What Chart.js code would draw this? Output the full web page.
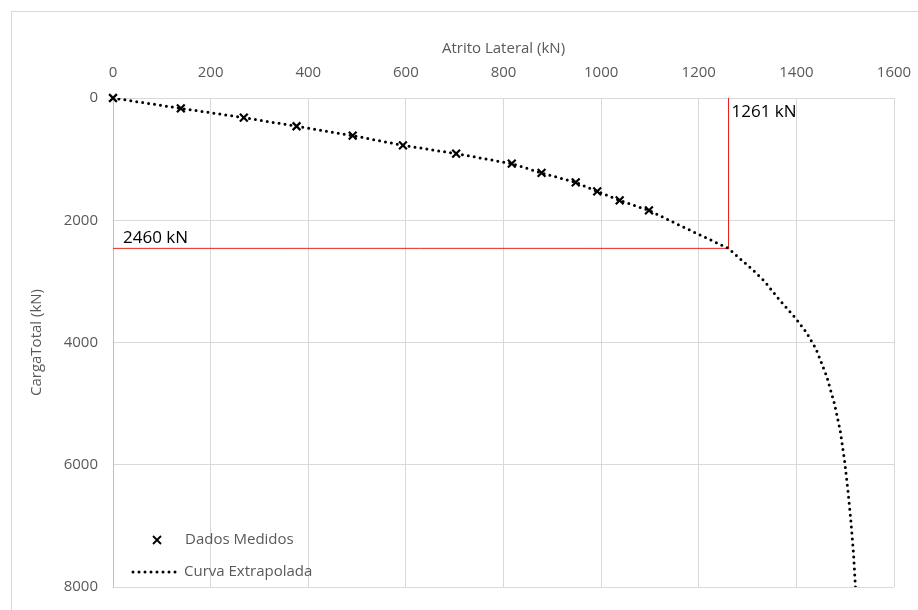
<!DOCTYPE html>
<html>
<head>
<meta charset="utf-8">
<script src="https://cdn.jsdelivr.net/npm/chart.js@4/dist/chart.umd.min.js"></script>
<style>
  html, body { margin: 0; padding: 0; background: #fff; overflow: hidden; }
  #wrap { position: relative; width: 918px; height: 610px; }
  #frame { position: absolute; left: 11px; top: 11px; width: 920px; height: 620px; border: 1px solid #d9d9d9; }
  canvas { position: absolute; left: 0; top: 0; }
</style>
</head>
<body>
<div id="wrap">
  <div id="frame"></div>
  <canvas id="grafico" width="918" height="610"></canvas>
</div>
<script>
// Dados medidos (prova de carga)
const atritoMedido = [0, 139, 268, 376, 491, 594, 703, 817, 878, 948, 992, 1038, 1098];
const cargaMedida  = [0, 170, 320, 462, 615, 774, 910, 1074, 1226, 1380, 1528, 1675, 1839];

// Curva extrapolada
const atritoCurva = [0, 139, 268, 376, 491, 594, 703, 817, 878, 948, 992, 1038, 1098, 1160, 1261,
  1313, 1335, 1365, 1398, 1420, 1440, 1462, 1478, 1490, 1499, 1506, 1512, 1517, 1521];
const cargaCurva  = [0, 170, 320, 462, 615, 774, 910, 1074, 1226, 1380, 1528, 1675, 1839, 2080, 2460,
  2830, 3000, 3300, 3600, 3830, 4100, 4550, 5000, 5450, 5950, 6450, 6950, 7450, 8000];

// Valores limite
const atritoLimite = 1261;
const cargaLimite = 2460;

const xTicks = { min: 0, max: 1600, step: 200 };
const yTicks = { min: 0, max: 8000, step: 2000 };

const legendaNomes = ['Dados Medidos', 'Curva Extrapolada'];

const toPoints = (xs, ys) => xs.map((v, i) => ({ x: v, y: ys[i] }));

const cinza = '#595959';
const fonte = '"Open Sans", "DejaVu Sans", sans-serif';

// textos das linhas de referencia
const etiquetas = {
  id: 'etiquetas',
  afterDatasetsDraw(chart) {
    const { ctx, scales: { x, y }, chartArea } = chart;
    ctx.save();
    ctx.font = '17px ' + fonte;
    ctx.fillStyle = '#000';
    ctx.textBaseline = 'middle';
    ctx.textAlign = 'left';
    ctx.fillText(atritoLimite + ' kN', x.getPixelForValue(atritoLimite) + 3, y.getPixelForValue(0) + 14);
    ctx.fillText(cargaLimite + ' kN', chartArea.left + 10, y.getPixelForValue(cargaLimite) - 10);
    ctx.restore();
  }
};

// legenda dentro da area do grafico (canto inferior esquerdo)
const legendaInterna = {
  id: 'legendaInterna',
  afterDraw(chart) {
    const { ctx, chartArea } = chart;
    const l = chartArea.left, b = chartArea.bottom;
    ctx.save();
    ctx.font = '15px ' + fonte;
    ctx.fillStyle = cinza;
    ctx.textBaseline = 'middle';

    // marcador x
    const cx = l + 44, cy = b - 47, s = 4;
    ctx.strokeStyle = '#000';
    ctx.lineWidth = 1.8;
    ctx.beginPath();
    ctx.moveTo(cx - s, cy - s); ctx.lineTo(cx + s, cy + s);
    ctx.moveTo(cx + s, cy - s); ctx.lineTo(cx - s, cy + s);
    ctx.stroke();
    ctx.fillText(legendaNomes[0], l + 72, cy);

    // linha pontilhada
    const ly = b - 15;
    ctx.lineWidth = 3;
    ctx.lineCap = 'round';
    ctx.setLineDash([0, 6]);
    ctx.beginPath();
    ctx.moveTo(l + 20, ly); ctx.lineTo(l + 63, ly);
    ctx.stroke();
    ctx.setLineDash([]);
    ctx.fillText(legendaNomes[1], l + 71, ly);
    ctx.restore();
  }
};

new Chart(document.getElementById('grafico'), {
  type: 'scatter',
  data: {
    datasets: [
      {
        label: legendaNomes[0],
        data: toPoints(atritoMedido, cargaMedida),
        showLine: false,
        pointStyle: 'crossRot',
        pointRadius: 5.5,
        pointBorderWidth: 2.2,
        pointBorderColor: '#000',
        clip: false
      },
      {
        label: legendaNomes[1],
        data: toPoints(atritoCurva, cargaCurva),
        showLine: true,
        borderColor: '#000',
        borderWidth: 3,
        borderDash: [0, 6],
        borderCapStyle: 'round',
        tension: 0,
        pointRadius: 0
      },
      {
        label: 'vertical',
        data: toPoints([atritoLimite, atritoLimite], [yTicks.min, cargaLimite]),
        showLine: true,
        borderColor: '#e8231f',
        borderWidth: 1,
        pointRadius: 0
      },
      {
        label: 'horizontal',
        data: toPoints([xTicks.min, atritoLimite], [cargaLimite, cargaLimite]),
        showLine: true,
        borderColor: '#e8231f',
        borderWidth: 1,
        pointRadius: 0
      }
    ]
  },
  options: {
    responsive: false,
    animation: false,
    layout: { padding: { left: 0, top: 0, right: 24, bottom: 23 } },
    plugins: {
      legend: { display: false },
      tooltip: { enabled: false }
    },
    scales: {
      x: {
        type: 'linear',
        position: 'top',
        min: xTicks.min,
        max: xTicks.max,
        afterFit: s => { s.height = 98; s.paddingLeft = 0; s.paddingRight = 0; },
        ticks: {
          stepSize: xTicks.step, color: cinza, font: { family: fonte, size: 15 }, padding: 16,
          callback: v => String(v)
        },
        grid: { color: '#d9d9d9', drawTicks: false },
        border: { color: '#d9d9d9' },
        title: {
          display: true,
          text: 'Atrito Lateral (kN)',
          color: cinza,
          font: { family: fonte, size: 15 },
          padding: { top: 40, bottom: 0 }
        }
      },
      y: {
        type: 'linear',
        reverse: true,
        min: yTicks.min,
        max: yTicks.max,
        afterFit: s => { s.width = 113; s.paddingTop = 0; s.paddingBottom = 0; },
        ticks: {
          stepSize: yTicks.step, color: cinza, font: { family: fonte, size: 15 }, padding: 15,
          callback: v => String(v)
        },
        grid: { color: '#d9d9d9', drawTicks: false },
        border: { color: '#bfbfbf' },
        title: {
          display: true,
          text: 'CargaTotal (kN)',
          color: cinza,
          font: { family: fonte, size: 15 },
          padding: { top: 28, bottom: 0 }
        }
      }
    }
  },
  plugins: [etiquetas, legendaInterna]
});
</script>
</body>
</html>
